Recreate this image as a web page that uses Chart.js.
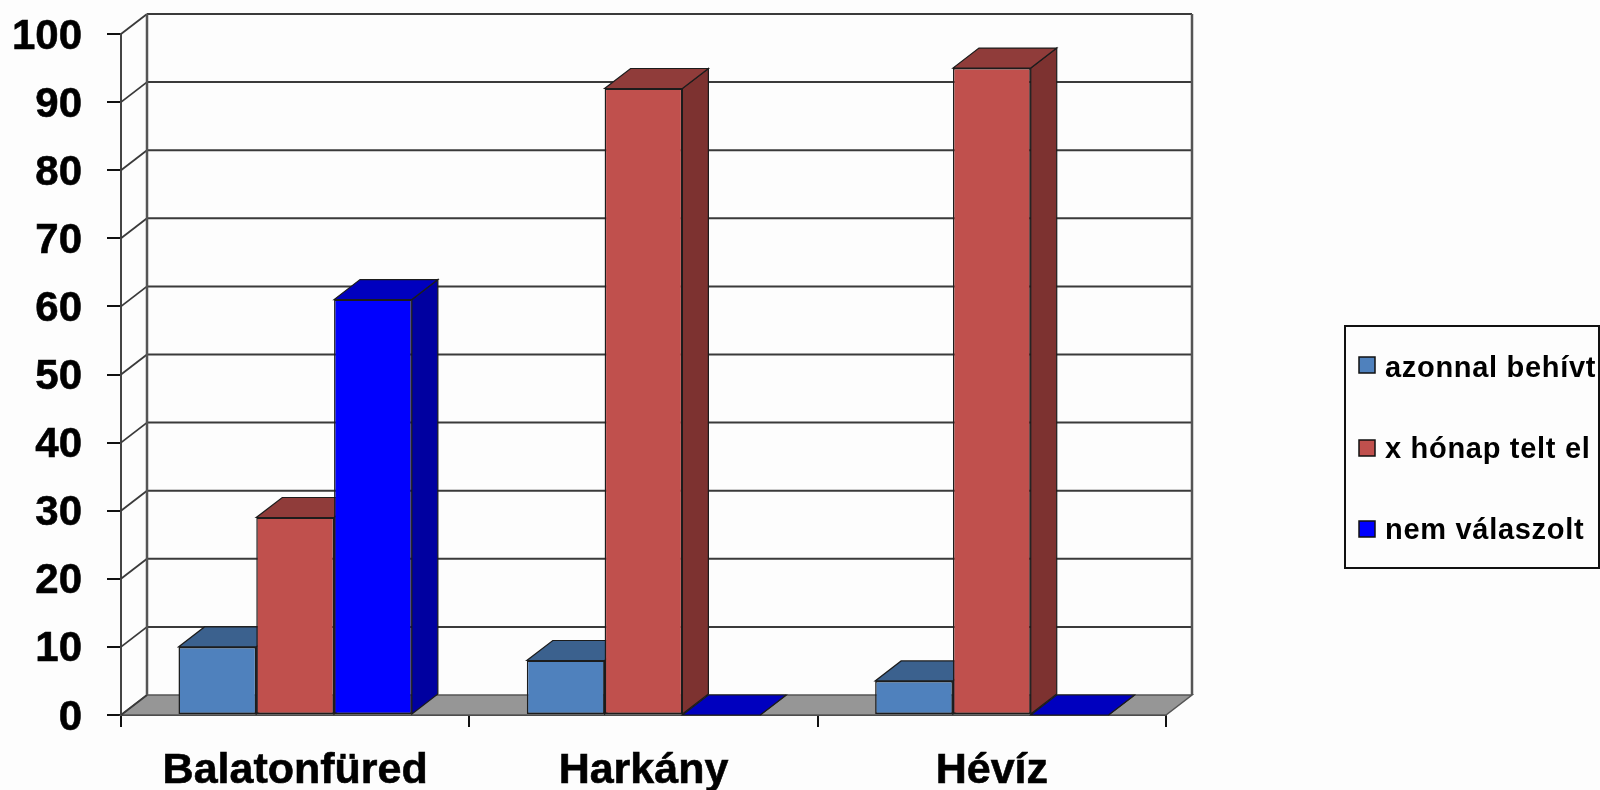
<!DOCTYPE html>
<html>
<head>
<meta charset="utf-8">
<style>html,body{margin:0;padding:0;background:#fdfdfd;overflow:hidden}canvas{display:block;filter:blur(0.5px)}</style>
<script src="https://cdn.jsdelivr.net/npm/chart.js@4"></script>
</head>
<body>
<div style="width:1600px;height:790px"><canvas id="c" width="1600" height="790"></canvas></div>
<script>
const categories = ["Balatonfüred", "Harkány", "Hévíz"];
const seriesNames = ["azonnal behívt", "x hónap telt el", "nem válaszolt"];
const azonnal = [10, 8, 5];
const xHonap = [29, 92, 95];
const nemValaszolt = [61, 0, 0];
const frontColors = ["#4f81bd", "#c0504d", "#0000ff"];
const topColors = ["#3b618e", "#903c3a", "#0000bf"];
const sideColors = ["#335378", "#7d3230", "#0000a0"];

const DX = 26, DY = 20;
const EDGE = "#1c1c1c";

function poly(ctx, pts, fill, stroke, lw) {
  ctx.beginPath();
  pts.forEach((p, i) => i ? ctx.lineTo(p[0], p[1]) : ctx.moveTo(p[0], p[1]));
  ctx.closePath();
  if (fill) { ctx.fillStyle = fill; ctx.fill(); }
  if (stroke) { ctx.strokeStyle = stroke; ctx.lineWidth = lw || 1; ctx.stroke(); }
}
function line(ctx, x0, y0, x1, y1, color, lw) {
  ctx.beginPath(); ctx.moveTo(x0, y0); ctx.lineTo(x1, y1);
  ctx.strokeStyle = color; ctx.lineWidth = lw; ctx.stroke();
}

const box3d = {
  id: "box3d",
  beforeDatasetsDraw(chart) {
    const { ctx, chartArea: a, scales: { y } } = chart;
    const y0 = y.getPixelForValue(0), y100 = y.getPixelForValue(100);
    ctx.save();
    // floor
    poly(ctx, [[a.left, y0], [a.right, y0], [a.right + DX, y0 - DY], [a.left + DX, y0 - DY]], "#969696", "#555", 1.5);
    // back wall gridlines and left wall diagonals
    y.ticks.forEach(t => {
      const py = y.getPixelForValue(t.value);
      line(ctx, a.left, py, a.left + DX, py - DY, "#3a3a3a", 1.8);
      if (t.value > 0) line(ctx, a.left + DX, py - DY, a.right + DX, py - DY, "#3a3a3a", 2);
    });
    line(ctx, a.left + DX, y100 - DY, a.left + DX, y0 - DY, "#555", 2.5);
    line(ctx, a.right + DX, y100 - DY, a.right + DX, y0 - DY, "#555", 2.5);
    // draw series in order so later series overlap earlier ones, each with its 3D faces first
    chart.data.datasets.forEach((d, i) => {
      const meta = chart.getDatasetMeta(i);
      meta.data.forEach(bar => {
        const { x, y: top, base, width } = bar.getProps(["x", "y", "base", "width"], true);
        const l = x - width / 2, r = x + width / 2;
        poly(ctx, [[r, top], [r + DX, top - DY], [r + DX, base - DY], [r, base]], sideColors[i], EDGE, 1.2);
        poly(ctx, [[l, top], [r, top], [r + DX, top - DY], [l + DX, top - DY]], topColors[i], EDGE, 1.2);
      });
      meta.controller.draw();
    });
    ctx.restore();
    return false;
  },
  afterDraw(chart) {
    const { ctx } = chart;
    ctx.save();
    // legend
    ctx.strokeStyle = "#111"; ctx.lineWidth = 2;
    ctx.fillStyle = "#fdfdfd";
    ctx.beginPath(); ctx.rect(1345, 326, 254, 242); ctx.fill(); ctx.stroke();
    const swatchY = [357, 440, 521];
    const baseY = [377, 458, 539];
    ctx.save();
    ctx.beginPath(); ctx.rect(1346, 327, 251, 240); ctx.clip();
    ctx.font = "bold 29px 'Liberation Sans'";
    ctx.letterSpacing = "0.7px";
    ctx.textBaseline = "alphabetic";
    chart.data.datasets.forEach((d, i) => {
      ctx.fillStyle = d.backgroundColor;
      ctx.strokeStyle = "#111"; ctx.lineWidth = 1.5;
      ctx.beginPath(); ctx.rect(1359, swatchY[i], 16, 16); ctx.fill(); ctx.stroke();
      ctx.fillStyle = "#000";
      ctx.fillText(d.label, 1385, baseY[i]);
    });
    ctx.restore();
    ctx.restore();
  }
};

const seriesValues = [azonnal, xHonap, nemValaszolt];
new Chart(document.getElementById("c"), {
  type: "bar",
  data: {
    labels: categories,
    datasets: seriesNames.map((n, i) => ({
      label: n,
      data: seriesValues[i],
      backgroundColor: frontColors[i],
      borderColor: EDGE,
      borderWidth: 1.5,
      borderSkipped: false
    }))
  },
  options: {
    responsive: false,
    animation: false,
    layout: { autoPadding: false, padding: { top: 34, right: 434, left: 0, bottom: 0 } },
    plugins: { legend: { display: false }, tooltip: { enabled: false }, title: { display: false } },
    datasets: { bar: { categoryPercentage: 0.67, barPercentage: 1 } },
    scales: {
      x: {
        afterFit(s) { s.height = 75; },
        grid: { offset: true, drawOnChartArea: false, drawTicks: true, tickLength: 12, color: "#111", lineWidth: 2 },
        border: { color: "#333", width: 2 },
        ticks: { color: "#000", padding: 18, maxRotation: 0, textStrokeColor: "#000", textStrokeWidth: 0.6, font: { family: "'Liberation Sans'", weight: "bold", size: 43 } }
      },
      y: {
        min: 0, max: 100,
        afterFit(s) { s.width = 121; s.paddingTop = 0; s.paddingBottom = 0; },
        grid: { drawOnChartArea: false, drawTicks: true, tickLength: 14, color: "#111", lineWidth: 2 },
        border: { color: "#444", width: 2 },
        ticks: { stepSize: 10, color: "#000", padding: 25, labelOffset: 3, textStrokeColor: "#000", textStrokeWidth: 0.6, font: { family: "'Liberation Sans'", weight: "bold", size: 42 } }
      }
    }
  },
  plugins: [box3d]
});
</script>
</body>
</html>
